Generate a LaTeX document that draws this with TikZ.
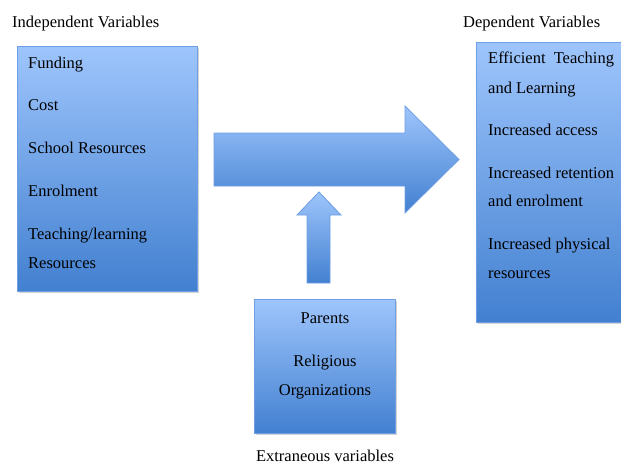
\documentclass[tikz,border=0pt]{standalone}
\usepackage{fontspec}
\setmainfont{Liberation Serif}
\usetikzlibrary{shadows}

\definecolor{boxtop}{RGB}{158,197,252}
\definecolor{boxbot}{RGB}{66,128,208}
\definecolor{boxline}{RGB}{110,158,228}

\tikzset{
  varbox/.style={draw=boxline, line width=0.8pt, top color=boxtop, bottom color=boxbot,
    inner sep=0pt, anchor=north west,
    drop shadow={shadow xshift=1.5pt, shadow yshift=-1.5pt, opacity=0.35}},
  arrowfill/.style={draw=boxline, line width=0.8pt, top color=boxtop, bottom color=boxbot},
  item/.style={anchor=base west, inner sep=0pt, font=\fontsize{16.5}{20}\selectfont},
  midtext/.style={anchor=base, inner sep=0pt, font=\fontsize{16.5}{20}\selectfont}
}

\begin{document}
\begin{tikzpicture}[x=1pt,y=-1pt]
\useasboundingbox (0,0) rectangle (621,464);

%boxes
\node[varbox, minimum width=180pt, minimum height=245pt] (indep) at (17,46) {};
\node[varbox, minimum width=150pt, minimum height=280pt] (dep) at (476,42) {};
\node[varbox, minimum width=141pt, minimum height=134pt] (extra) at (254,299) {};

%titles
\node[item] (indeptitle) at (12,27) {Independent Variables};
\node[item] (deptitle) at (463,27) {Dependent Variables};
\node[midtext] (extratitle) at (325,461) {Extraneous variables};

%independent
\node[item] (funding) at (28,68) {Funding};
\node[item] (cost) at (28,110) {Cost};
\node[item] (school) at (28,153) {School Resources};
\node[item] (enrol) at (28,196) {Enrolment};
\node[item] (teach) at (28,239) {Teaching/learning};
\node[item] (teachres) at (28,268) {Resources};

%dependent
\node[item] (eff) at (488,63) {Efficient\hspace{4pt} Teaching};
\node[item] (efflearn) at (488,93) {and Learning};
\node[item] (access) at (488,135) {Increased access};
\node[item] (retain) at (488,178) {Increased retention};
\node[item] (retenrol) at (488,206) {and enrolment};
\node[item] (phys) at (488,249) {Increased physical};
\node[item] (physres) at (488,278) {resources};

%extraneous
\node[midtext] (parents) at (325,323) {Parents};
\node[midtext] (relig) at (325,366) {Religious};
\node[midtext] (org) at (325,395) {Organizations};

%arrows
\draw[arrowfill] (214,133) -- (405,133) -- (405,106) -- (459,159.5) -- (405,213)
  -- (405,186) -- (214,186) -- cycle;
\draw[arrowfill] (307,283) -- (307,215) -- (297,215) -- (319,192) -- (341,215)
  -- (330,215) -- (330,283) -- cycle;

\end{tikzpicture}
\end{document}
